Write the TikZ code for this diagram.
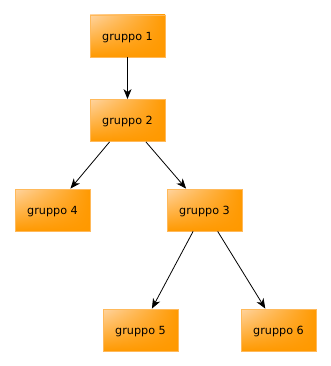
\documentclass[tikz,border=0pt]{standalone}
\usepackage{fontspec}
\setmainfont{DejaVu Sans}
\usetikzlibrary{arrows.meta,shadings}
\definecolor{boxfill}{RGB}{255,153,0}
\definecolor{boxedge}{RGB}{255,185,90}
\definecolor{gloss}{RGB}{255,212,160}
\tikzset{
  group/.style={
    rectangle, minimum width=75pt, minimum height=42pt, inner sep=0pt,
    text depth=0pt,
    draw=boxedge, line width=0.8pt,
    upper left=gloss, upper right=boxfill,
    lower left=boxfill, lower right=boxfill,
    font=\fontsize{11.2}{13}\selectfont
  },
  link/.style={draw=black, line width=0.8pt,
    -{Stealth[length=10pt,width=8pt,inset=3pt]}}
}
\begin{document}
\begin{tikzpicture}[x=1pt,y=-1pt]
  \useasboundingbox (0,0) rectangle (331,366);
  \node[group] (g1) at (127.5,36)  {gruppo 1};
  \node[group] (g2) at (127.5,120.5) {gruppo 2};
  \node[group] (g4) at (52.5,210)  {gruppo 4};
  \node[group] (g3) at (204.5,210) {gruppo 3};
  \node[group] (g5) at (140.5,330) {gruppo 5};
  \node[group] (g6) at (278.5,330) {gruppo 6};
  \draw[link] (g1) -- (g2);
  \draw[link] (g2) -- (g4);
  \draw[link] (g2) -- (g3);
  \draw[link] (g3) -- (g5);
  \draw[link] (g3) -- (g6);
\end{tikzpicture}
\end{document}
